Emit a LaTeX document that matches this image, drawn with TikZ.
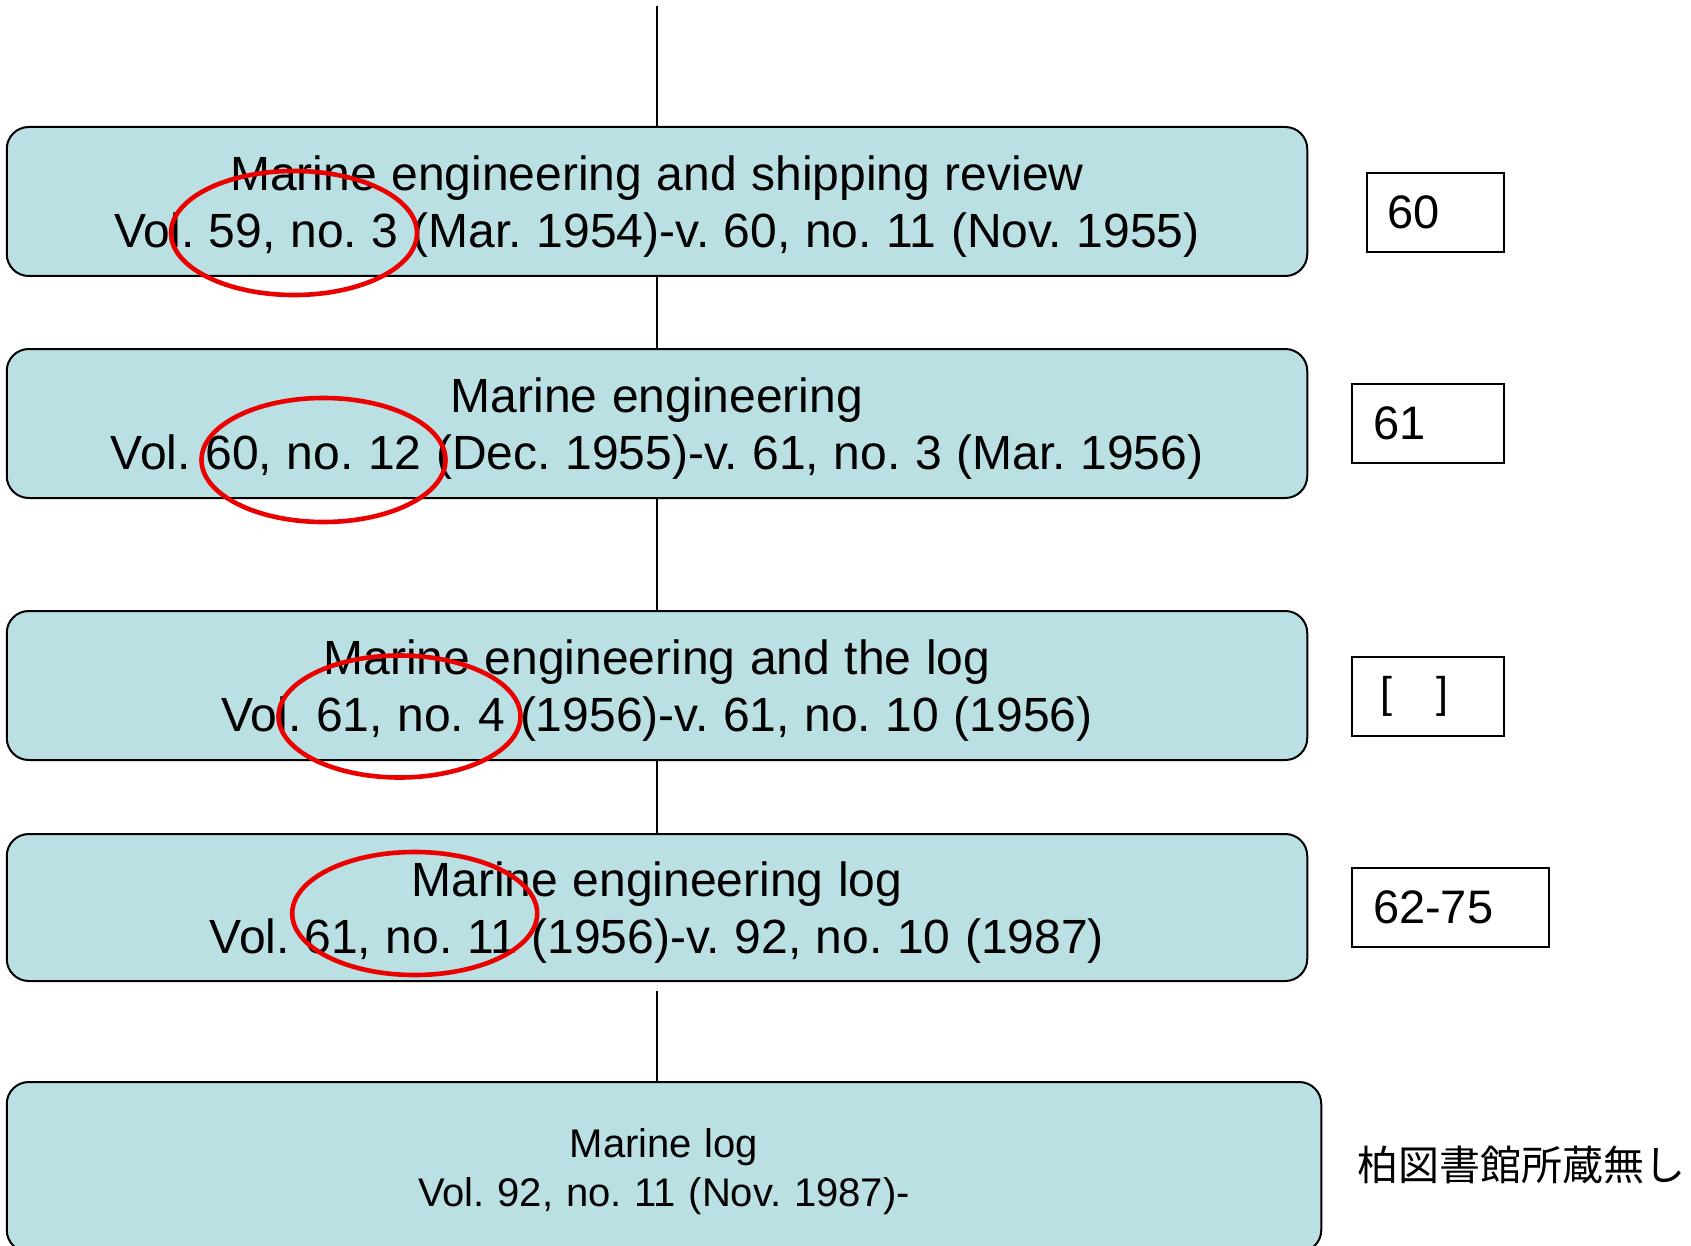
\documentclass[tikz,border=0pt]{standalone}
\usepackage{fontspec}
\setmainfont{Liberation Sans}
\newfontfamily\jpfont{Noto Sans CJK JP}
\definecolor{boxblue}{RGB}{187,224,227}
\definecolor{ringred}{RGB}{235,0,0}
\newcommand\serfont{\fontsize{24}{28.5}\selectfont\spaceskip=7.3pt plus 2pt minus 1pt\relax}
\newcommand\lastfont{\fontsize{20}{24.25}\selectfont\spaceskip=6.4pt plus 2pt minus 1pt\relax}
\frenchspacing
\begin{document}
\frenchspacing
\begin{tikzpicture}[x=0.5pt,y=-0.5pt,
  serbox/.style={draw=black, line width=1pt, fill=boxblue, rounded corners=11pt,
    minimum width=650.25pt, minimum height=74.5pt, inner sep=0pt},
  boxtext/.style={align=center, inner sep=0pt, font=\serfont},
  lasttext/.style={align=center, inner sep=0pt, font=\lastfont},
  volbox/.style={draw=black, line width=1pt, fill=white, rectangle, minimum height=39.5pt,
    inner xsep=10.5pt, inner ysep=0pt, align=left, font=\fontsize{23.5}{28.5}\selectfont},
  conn/.style={draw=black, line width=1pt},
  ring/.style={draw=ringred, line width=2.3pt}
]
\useasboundingbox (0,0) rectangle (1691,1246);

\node[serbox] (b1) at (657,201.5) {};
\node[serbox] (b2) at (657,423.5) {};
\node[serbox] (b3) at (657,685.5) {};
\node[serbox, minimum height=73.5pt] (b4) at (657,907.5) {};
\node[serbox, minimum width=657.25pt, minimum height=85pt] (b5) at (664,1167) {};

\node[boxtext] (t1) at ([yshift=-2.75pt]b1.center) {Marine engineering and shipping review\\Vol. 59, no. 3 (Mar. 1954)-v. 60, no. 11 (Nov. 1955)};
\node[boxtext] (t2) at ([yshift=-2.75pt]b2.center) {Marine engineering\\Vol. 60, no. 12 (Dec. 1955)-v. 61, no. 3 (Mar. 1956)};
\node[boxtext] (t3) at ([yshift=-2.75pt]b3.center) {Marine engineering and the log\\Vol. 61, no. 4 (1956)-v. 61, no. 10 (1956)};
\node[boxtext] (t4) at ([yshift=-2.75pt]b4.center) {Marine engineering log\\Vol. 61, no. 11 (1956)-v. 92, no. 10 (1987)};
\node[lasttext] (t5) at ([yshift=-2.2pt]b5.center) {Marine log\\Vol. 92, no. 11 (Nov. 1987)-};

\coordinate (top) at (657,6);
\draw[conn] (top) -- (b1.north);
\draw[conn] (b1.south) -- (b2.north);
\draw[conn] (b2.south) -- (b3.north);
\draw[conn] (b3.south) -- (b4.north);
\draw[conn, shorten <=4.5pt] (b4.south) -- (b4.south |- b5.north);

\node[volbox, text width=47.5pt] (v1) at (1435.3,212.2) {\raisebox{-2.6pt}{60}};
\node[volbox, text width=55pt] (v2) at (1428,423.5) {\raisebox{-2.6pt}{61}};
\node[volbox, text width=55pt] (v3) at (1428,696.3) {\fontsize{21.5}{26}\selectfont\hspace{3.5pt}\raisebox{-1.8pt}{[\hspace{22.5pt}]}};
\node[volbox, text width=77.5pt] (v4) at (1450.5,907.5) {\raisebox{-2.2pt}{62-75}};
\node[anchor=west, inner sep=0pt, font=\jpfont\fontsize{20.5}{24}\selectfont] (nohold) at (1357,1165) {柏図書館所蔵無し};

\draw[ring] (294,233) ellipse [x radius=61.5pt, y radius=31pt];
\draw[ring] (323.5,460) ellipse [x radius=61pt, y radius=31pt];
\draw[ring] (399.5,716.5) ellipse [x radius=60.5pt, y radius=30.5pt];
\draw[ring] (414.7,913.5) ellipse [x radius=61.25pt, y radius=30.75pt];
\end{tikzpicture}
\end{document}
